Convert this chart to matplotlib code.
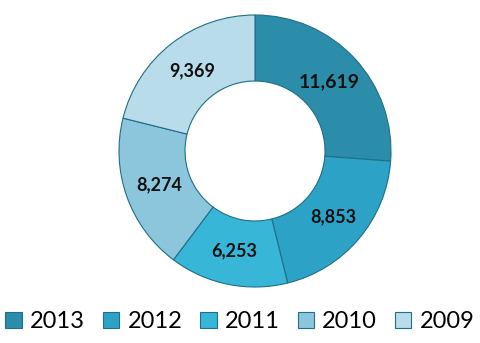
import matplotlib.pyplot as plt
import numpy as np

years = ['2013', '2012', '2011', '2010', '2009']
values = [11619, 8853, 6253, 8274, 9369]
labels = ['11,619', '8,853', '6,253', '8,274', '9,369']
colors = ['#2b8daa', '#2ca3c6', '#37b6d8', '#8cc6dc', '#b8dcea']

plt.rcParams['font.family'] = ['Lato', 'DejaVu Sans']

fig = plt.figure(figsize=(4.8, 3.43), dpi=100)
ax = fig.add_axes([0, 0, 1, 1])

cx, cy, R = 255, 192, 136
wedges, _ = ax.pie(values, colors=colors, startangle=90, counterclock=False,
                   center=(cx, cy), radius=R, frame=True,
                   wedgeprops=dict(width=66, edgecolor='#1f6f86', linewidth=0.8))
ax.set_xlim(0, 480)
ax.set_ylim(0, 343)
ax.set_aspect('equal')
ax.axis('off')

# value labels in the middle of the ring
tot = sum(values)
start = 90
for v, lab in zip(values, labels):
    ang = start - v / tot * 360 / 2
    start -= v / tot * 360
    r = 102
    x = cx + r * np.cos(np.radians(ang))
    y = cy + r * np.sin(np.radians(ang))
    ax.text(x, y, lab, ha='center', va='center',
            fontsize=14 if v == max(values) else 13,
            fontweight='bold', color='#111111')

fig.legend(wedges, years, loc='lower center', ncol=5, frameon=False,
           bbox_to_anchor=(0.5, -0.03), fontsize=17, handlelength=0.7,
           handleheight=0.7, handletextpad=0.35, columnspacing=0.75)

fig.savefig('out.png', dpi=100)
